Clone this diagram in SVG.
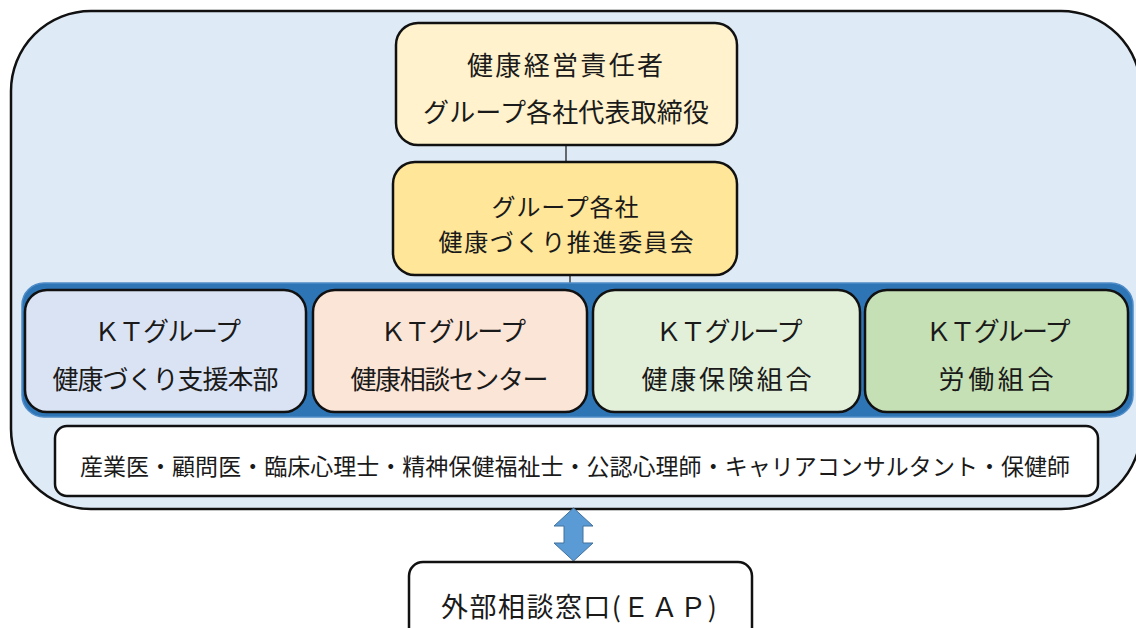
<svg xmlns="http://www.w3.org/2000/svg" width="1136" height="628" viewBox="0 0 1136 628">
<style>
.t{font-family:"Noto Sans CJK JP","Noto Sans",sans-serif;fill:#1a1a1a;text-anchor:middle}
.f26{font-size:26px}
.box{stroke:#111;stroke-width:2.5}
.conn{stroke:#222;stroke-width:1.3;fill:none}
</style>
<rect width="1136" height="628" fill="#ffffff"/>
<g id="outer">
<rect x="11" y="11" width="1130" height="498" rx="80" ry="80" fill="#DEEAF6" stroke="#111" stroke-width="2.5"/>
</g>
<g id="connectors">
<line class="conn" x1="566" y1="145" x2="566" y2="162"/>
<line class="conn" x1="570" y1="275" x2="570" y2="284"/>
<polygon points="573.5,508 593,526 583,526 583,543 593,543 573.5,561 554,543 564,543 564,526 554,526" fill="#5B9BD5" stroke="#41719C" stroke-width="1"/>
</g>
<g id="n-top">
<rect class="box" x="396" y="23" width="341" height="122" rx="22" fill="#FFF2CC"/>
<text class="t f26"><tspan x="565" y="75" textLength="196">健康経営責任者</tspan><tspan x="566" y="122" textLength="286">グループ各社代表取締役</tspan></text>
</g>
<g id="n-committee">
<rect class="box" x="393" y="162" width="344" height="113" rx="22" fill="#FFE699"/>
<text class="t" font-size="24"><tspan x="565" y="215.5" textLength="147">グループ各社</tspan><tspan x="566" y="250.5" textLength="255">健康づくり推進委員会</tspan></text>
</g>
<g id="band">
<rect x="22" y="283" width="1111" height="134" rx="22" fill="#2E75B6" stroke="#4F8CC8" stroke-width="1.5"/>
</g>
<g id="n-support">
<rect class="box" x="25" y="290" width="281" height="122" rx="22" fill="#DAE3F3"/>
<text class="t f26"><tspan x="167.5" y="341" textLength="147">ＫＴグループ</tspan><tspan x="165.5" y="389" textLength="226">健康づくり支援本部</tspan></text>
</g>
<g id="n-center">
<rect class="box" x="313" y="290" width="274" height="122" rx="22" fill="#FBE5D6"/>
<text class="t f26"><tspan x="453" y="341" textLength="146">ＫＴグループ</tspan><tspan x="449.5" y="389" textLength="198">健康相談センター</tspan></text>
</g>
<g id="n-insurance">
<rect class="box" x="593" y="290" width="267" height="122" rx="22" fill="#E2F0D9"/>
<text class="t f26"><tspan x="729" y="341" textLength="147">ＫＴグループ</tspan><tspan x="726.5" y="389" textLength="170">健康保険組合</tspan></text>
</g>
<g id="n-union">
<rect class="box" x="865" y="290" width="263" height="122" rx="22" fill="#C5E0B4"/>
<text class="t f26"><tspan x="998" y="341" textLength="145">ＫＴグループ</tspan><tspan x="996" y="389" textLength="115">労働組合</tspan></text>
</g>
<g id="n-staff">
<rect class="box" x="55" y="426" width="1043" height="70" rx="12" fill="#ffffff"/>
<text class="t" x="575" y="475" font-size="23" textLength="990">産業医・顧問医・臨床心理士・精神保健福祉士・公認心理師・キャリアコンサルタント・保健師</text>
</g>
<g id="n-eap">
<rect class="box" x="409" y="562" width="343" height="90" rx="14" fill="#ffffff"/>
<text class="t" x="579" y="617" font-size="27" textLength="276">外部相談窓口(ＥＡＰ)</text>
</g>
</svg>
